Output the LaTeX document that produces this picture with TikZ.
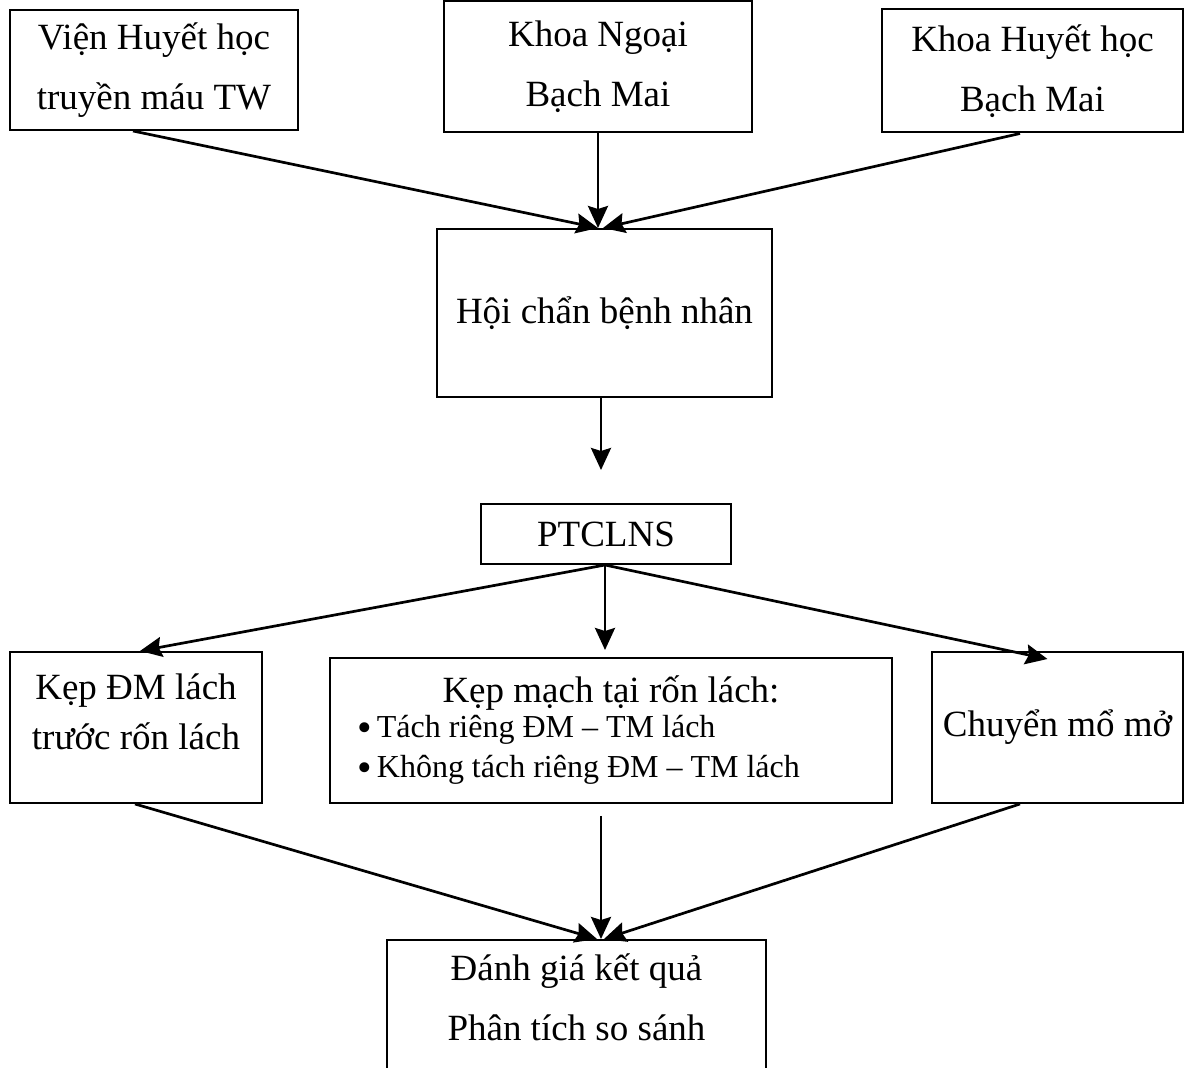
\documentclass[tikz,border=0pt]{standalone}
\usepackage{fontspec}
\setmainfont{Liberation Serif}
\usetikzlibrary{arrows.meta, positioning, calc}

\newcommand{\bigbullet}{\raisebox{-1.6pt}{\scalebox{1.3}{\textbullet}}\,}

\begin{document}
\begin{tikzpicture}[
        x=0.5pt, y=-0.5pt,
        box/.style={draw, line width=1pt, inner sep=0pt, align=center, font=\fontsize{18.5}{30}\selectfont},
        arrow/.style={-{Stealth[length=11pt, width=10pt, inset=1.5pt]}, line width=1.35pt}
    ]
        \useasboundingbox (0,0) rectangle (1190,1068);

        \node[box, minimum width=144pt, minimum height=60pt] (vien) at (154,70) {Viện Huyết học\\truyền máu TW};
        \node[box, minimum width=154pt, minimum height=65.5pt] (ngoai) at (598,66.5) {Khoa Ngoại\\Bạch Mai};
        \node[box, minimum width=150.5pt, minimum height=61.5pt] (huyethoc) at (1032.5,71) {Khoa Huyết học\\Bạch Mai};
        \node[box, minimum width=167.5pt, minimum height=84pt] (hoichan) at (604.5,313) {Hội chẩn bệnh nhân};
        \node[box, minimum width=125pt, minimum height=30pt] (ptclns) at (606,534) {PTCLNS};
        \node[box, minimum width=126pt, minimum height=75.5pt, text depth=16pt, font=\fontsize{18.5}{25}\selectfont] (kepdm) at (136,727.5) {Kẹp ĐM lách\\trước rốn lách};
        \node[box, minimum width=281pt, minimum height=72.5pt] (kepmach) at (611,730.5) {Kẹp mạch tại rốn lách:\\[-12.5pt]
            {\fontsize{16}{20}\selectfont\makebox[254pt][l]{\bigbullet Tách riêng ĐM – TM lách}}\\[-10pt]
            {\fontsize{16}{20}\selectfont\makebox[254pt][l]{\bigbullet Không tách riêng ĐM – TM lách}}};
        \node[box, minimum width=125.5pt, minimum height=75.5pt] (chuyen) at (1057.5,727.5) {Chuyển mổ mở};
        \node[box, minimum width=189.5pt, minimum height=96pt] (danhgia) at (576.5,1036) {Đánh giá kết quả\\Phân tích so sánh\\\strut};

        \draw[arrow] ([xshift=-10.5pt]vien.south) -- ([xshift=-3.25pt]hoichan.north);
        \draw[arrow] (ngoai.south) -- (ngoai.south |- hoichan.north);
        \draw[arrow] ([xshift=-6.25pt]huyethoc.south) -- ([xshift=-0.75pt]hoichan.north);

        \draw[arrow, shorten >=16.5pt] ([xshift=-1.75pt]hoichan.south) -- ([xshift=-1.75pt]hoichan.south |- ptclns.north);

        \draw[arrow] ([xshift=-0.5pt]ptclns.south) -- ([xshift=2pt]kepdm.north);
        \draw[arrow, shorten >=3.5pt] ([xshift=-0.5pt]ptclns.south) -- ([xshift=-0.5pt]ptclns.south |- kepmach.north);
        \draw[arrow] ([xshift=-0.5pt]ptclns.south) -- ([xshift=-5pt,yshift=-4pt]chuyen.north);

        \draw[arrow] ([xshift=-0.5pt]kepdm.south) -- ([xshift=10.25pt]danhgia.north);
        \draw[arrow, shorten <=6pt] ([xshift=-5pt]kepmach.south) -- ([xshift=12.25pt]danhgia.north);
        \draw[arrow] ([xshift=-18.75pt]chuyen.south) -- ([xshift=13.75pt]danhgia.north);

    \end{tikzpicture}
\end{document}
